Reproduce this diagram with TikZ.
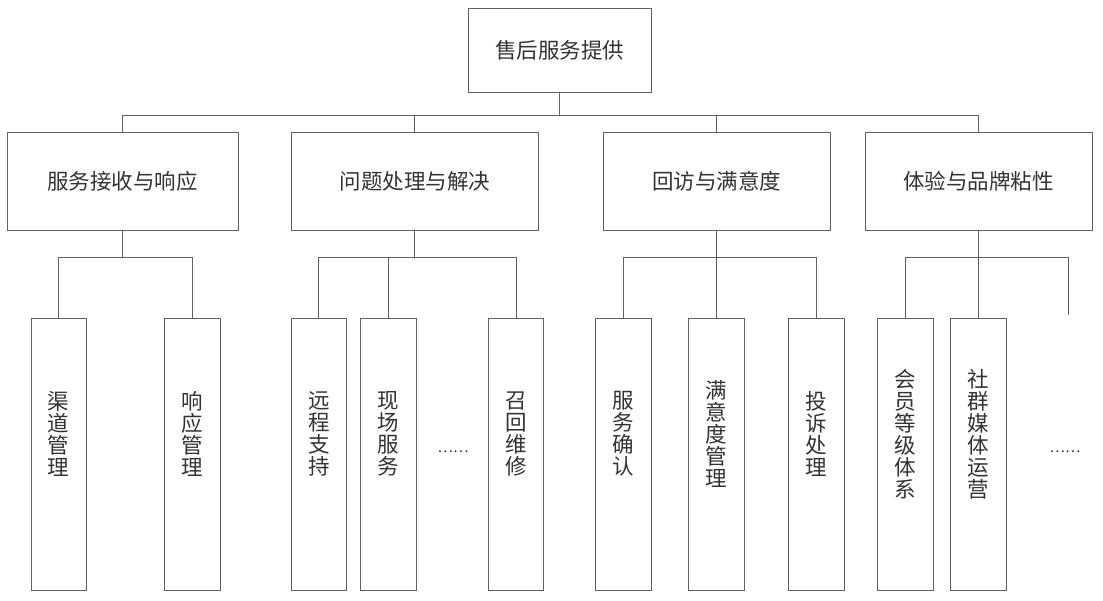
\documentclass[tikz,border=0pt]{standalone}
\usepackage{fontspec}
\setmainfont{Noto Sans CJK SC}
\begin{document}
\begin{tikzpicture}[x=1pt,y=-1pt,
  conn/.style={draw=black!62, line width=0.9pt},
  box/.style={draw=black!62, line width=0.9pt, inner sep=0pt, text=black!80,
    font=\fontsize{21.5}{22}\selectfont},
  midbox/.style={box, minimum height=98pt},
  leaf/.style={draw=black!62, line width=0.9pt, inner sep=0pt, minimum width=55.5pt, minimum height=272pt},
  vt/.style={inner sep=0pt, align=center, text=black!80, font=\fontsize{21.5}{22}\selectfont},
  dots/.style={inner sep=0pt, text=black!80, font=\fontsize{14.5}{15}\selectfont}]
\useasboundingbox (0,0) rectangle (1103,601);
\fill[white] (0,0) rectangle (1103,601);

\node[box, minimum width=183pt, minimum height=84pt] (top) at (559.5,50) {售后服务提供};

\node[midbox, minimum width=231pt] (b1) at (122.6,181) {服务接收与响应};
\node[midbox, minimum width=247pt] (b2) at (414.8,181) {问题处理与解决};
\node[midbox, minimum width=227pt] (b3) at (716.5,181) {回访与满意度};
\node[midbox, minimum width=227pt] (b4) at (978.5,181) {体验与品牌粘性};

\coordinate (bus) at (0,115);
\coordinate (bus2) at (0,257);

\draw[conn] (top.south) -- (top.south |- bus);
\draw[conn] (b1.north) -- (b1.north |- bus) -- (b4.north |- bus) -- (b4.north);
\draw[conn] (b2.north) -- (b2.north |- bus);
\draw[conn] (b3.north) -- (b3.north |- bus);

% leaves
\node[leaf] (l11) at (58.7,454) {};
\node[leaf] (l12) at (192.5,454) {};
\node[leaf] (l21) at (318.9,454) {};
\node[leaf] (l22) at (388.4,454) {};
\node[leaf] (l23) at (516,454) {};
\node[leaf] (l31) at (623.5,454) {};
\node[leaf] (l32) at (716.5,454) {};
\node[leaf] (l33) at (816.3,454) {};
\node[leaf] (l41) at (905.5,454) {};
\node[leaf] (l42) at (978.5,454) {};

\node[vt] (t11) at ([yshift=20pt]l11.center) {渠\\道\\管\\理};
\node[vt] (t12) at ([yshift=20pt]l12.center) {响\\应\\管\\理};
\node[vt] (t21) at ([yshift=20pt]l21.center) {远\\程\\支\\持};
\node[vt] (t22) at ([yshift=20pt]l22.center) {现\\场\\服\\务};
\node[vt] (t23) at ([yshift=20pt]l23.center) {召\\回\\维\\修};
\node[vt] (t31) at ([yshift=20pt]l31.center) {服\\务\\确\\认};
\node[vt] (t32) at ([yshift=20pt]l32.center) {满\\意\\度\\管\\理};
\node[vt] (t33) at ([yshift=20pt]l33.center) {投\\诉\\处\\理};
\node[vt] (t41) at ([yshift=20pt]l41.center) {会\\员\\等\\级\\体\\系};
\node[vt] (t42) at ([yshift=20pt]l42.center) {社\\群\\媒\\体\\运\\营};

\node[dots] (e2) at (453,452) {……};
\node[dots] (e4) at (1065,452) {……};

\coordinate (dangle) at (1068,315);

% level 3 connectors
\draw[conn] (b1.south) -- (b1.south |- bus2);
\draw[conn] (l11.north) -- (l11.north |- bus2) -- (l12.north |- bus2) -- (l12.north);

\draw[conn] (b2.south) -- (b2.south |- bus2);
\draw[conn] (l21.north) -- (l21.north |- bus2) -- (l23.north |- bus2) -- (l23.north);
\draw[conn] (l22.north) -- (l22.north |- bus2);

\draw[conn] (b3.south) -- (l32.north);
\draw[conn] (l31.north) -- (l31.north |- bus2) -- (l33.north |- bus2) -- (l33.north);

\draw[conn] (b4.south) -- (l42.north);
\draw[conn] (l41.north) -- (l41.north |- bus2) -- (dangle |- bus2) -- (dangle);
\end{tikzpicture}
\end{document}
